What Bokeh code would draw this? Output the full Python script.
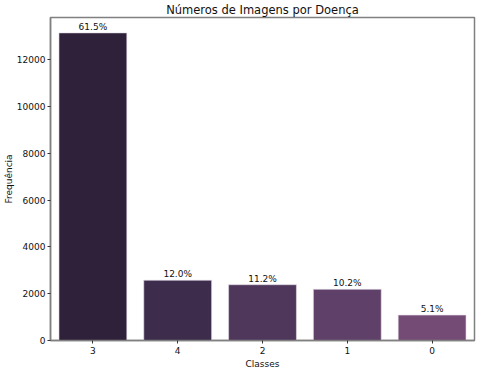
from bokeh.plotting import figure
from bokeh.models import ColumnDataSource, FixedTicker, Range1d, FactorRange
from bokeh.embed import file_html
from bokeh.resources import INLINE

classes = ["3", "4", "2", "1", "0"]
counts = [13158, 2577, 2386, 2189, 1087]
colors = ["#2f213a", "#3d2c4c", "#4f375c", "#5f4068", "#734b75"]
y_ticks = [0, 2000, 4000, 6000, 8000, 10000, 12000]

total = sum(counts)
pct_labels = [f"{c / total * 100:.1f}%" for c in counts]

src = ColumnDataSource(dict(cls=classes, cnt=counts, col=colors, lab=pct_labels))

FONT = "DejaVu Sans"
AX = "#808080"

p = figure(width=480, height=372, output_backend="svg", toolbar_location=None,
           x_range=FactorRange(*classes), y_range=Range1d(0, max(counts) * 1.05),
           title="Números de Imagens por Doença",
           min_border_left=46, min_border_right=6, min_border_top=0, min_border_bottom=32)

p.vbar(x="cls", top="cnt", width=0.8, source=src, fill_color="col",
       line_color="#e6dde8", line_width=0.6)
p.text(x="cls", y="cnt", text="lab", source=src, text_align="center",
       text_baseline="bottom", y_offset=-1, text_font_size="9px",
       text_font={"value": FONT}, text_color="#111111")

p.title.text_font = FONT
p.title.text_font_size = "11.5px"
p.title.text_font_style = "normal"
p.title.align = "center"
p.title.text_color = "#111111"
p.title.standoff = 1

p.xgrid.visible = False
p.ygrid.visible = False
p.outline_line_color = AX
p.outline_line_width = 1.5
p.outline_line_alpha = 1

for ax in (p.xaxis, p.yaxis):
    ax.axis_line_color = AX
    ax.axis_line_width = 1.5
    ax.major_tick_line_color = "#333333"
    ax.major_tick_in = 0
    ax.major_tick_out = 3
    ax.minor_tick_line_color = None
    ax.major_label_text_font = FONT
    ax.major_label_text_font_size = "9px"
    ax.major_label_text_color = "#111111"
    ax.axis_label_text_font = FONT
    ax.axis_label_text_font_size = "9px"
    ax.axis_label_text_font_style = "normal"
    ax.axis_label_text_color = "#111111"

p.yaxis.ticker = FixedTicker(ticks=y_ticks)
p.yaxis.axis_label = "Frequência"
p.yaxis.major_label_standoff = 2
p.yaxis.axis_label_standoff = 0
p.xaxis.axis_label = "Classes"
p.xaxis.major_label_standoff = 3
p.xaxis.axis_label_standoff = 2

open("out.html", "w").write(file_html(p, INLINE))
